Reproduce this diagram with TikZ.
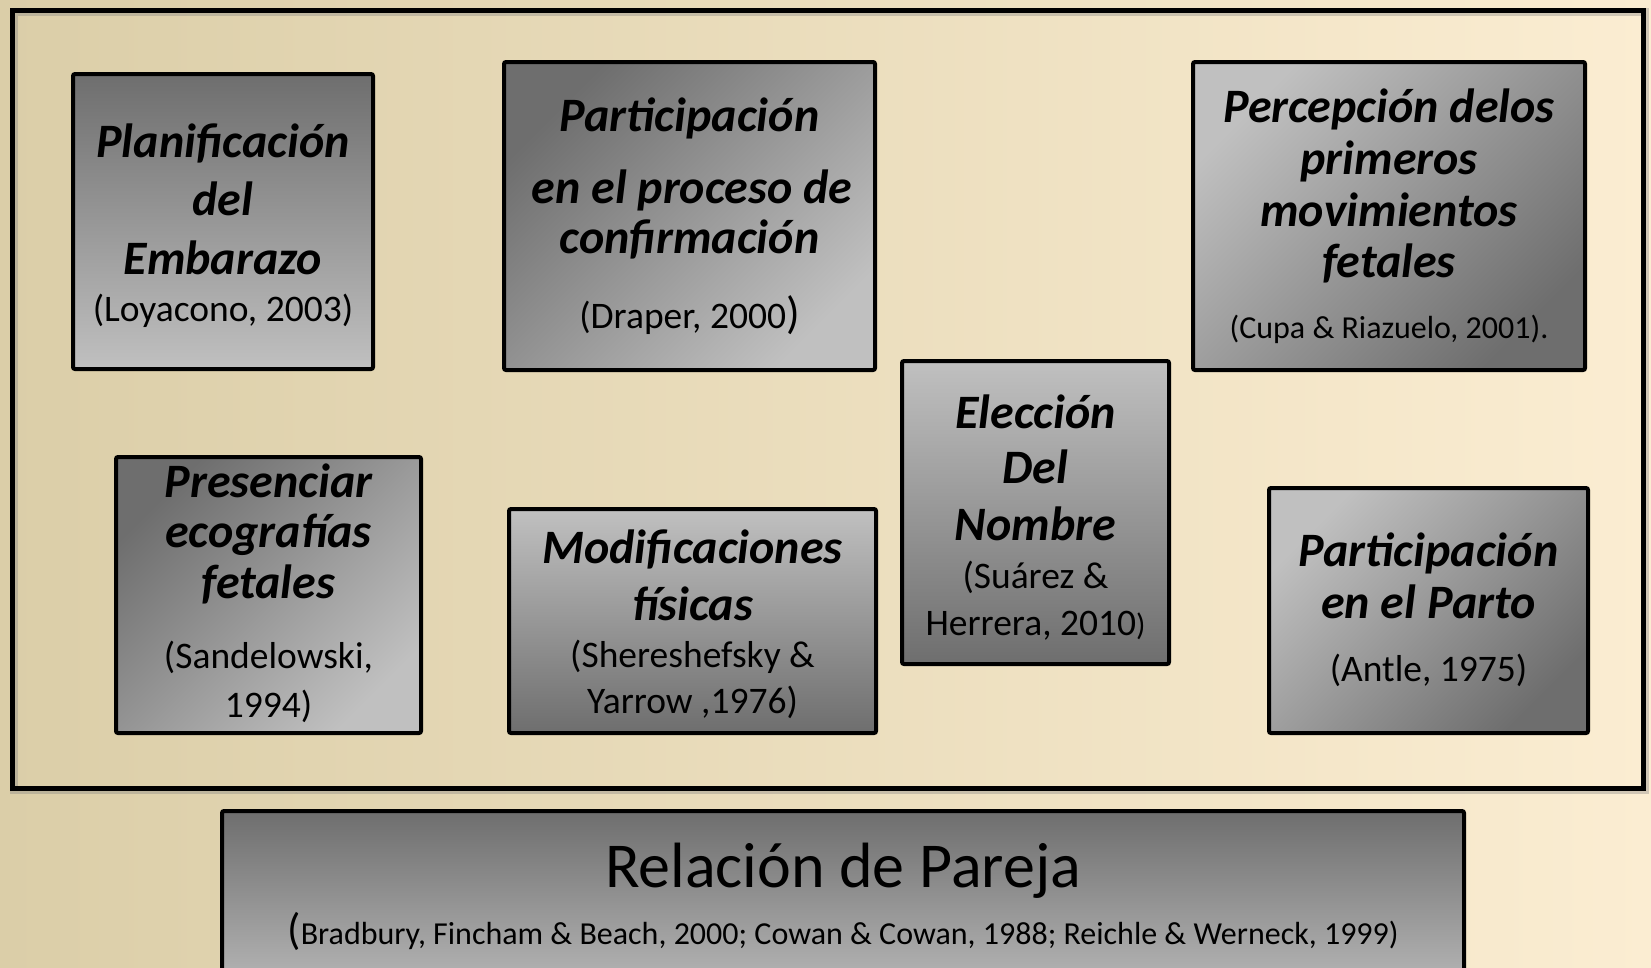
\documentclass[tikz,border=0pt]{standalone}
\usepackage{fontspec}
\setmainfont{Carlito}
\definecolor{gdark}{RGB}{110,110,110}
\definecolor{glight}{RGB}{192,192,192}
\definecolor{bgL}{RGB}{219,206,168}
\definecolor{bgM}{RGB}{243,237,216}
\definecolor{bgR}{RGB}{251,237,210}
\tikzset{
  boxbase/.style={draw=black, line width=4pt, rounded corners=2pt, inner sep=0pt, outer sep=0pt},
  vdark/.style={boxbase, top color=gdark, bottom color=glight},
  vlight/.style={boxbase, top color=glight, bottom color=gdark},
  ddark/.style={boxbase, top color=gdark, bottom color=glight, shading angle=45},
  dlight/.style={boxbase, top color=glight, bottom color=gdark, shading angle=45},
  frame/.style={draw=black, line width=5pt, inner sep=0pt, outer sep=0pt},
  ttl/.style={font=\fontsize{48}{56}\selectfont\bfseries\itshape, anchor=base, inner sep=0pt},
  cit/.style={font=\fontsize{37.5}{42}\selectfont, anchor=base, inner sep=0pt},
  citsm/.style={font=\fontsize{32}{38}\selectfont, anchor=base, inner sep=0pt},
  big/.style={font=\fontsize{64}{72}\selectfont, anchor=base, inner sep=0pt},
  citb/.style={font=\fontsize{32}{38}\selectfont, anchor=base, inner sep=0pt},
}
\begin{document}
\begin{tikzpicture}[x=1pt,y=-1pt]
\useasboundingbox (0,0) rectangle (1651,967);
\clip (0,0) rectangle (1651,967);
\fill[left color=bgL, middle color=bgM, right color=bgR] (0,0) rectangle (1651,967);
% outer frame
\node[draw=gray, opacity=0.35, line width=8pt, minimum width=1631pt, minimum height=778pt, inner sep=0pt] (frameshadow) at (829.5,401) {};
\node[frame, minimum width=1631pt, minimum height=778pt] (frame) at (827.5,399) {};
% boxes
\node[vdark, minimum width=300pt, minimum height=295pt] (b1) at (223,221.5) {};
\node[ddark, minimum width=371pt, minimum height=308pt] (b2) at (689.5,216) {};
\node[dlight, minimum width=392pt, minimum height=308pt] (b3) at (1389,216) {};
\node[ddark, minimum width=305pt, minimum height=276pt] (b4) at (268.5,595) {};
\node[vlight, minimum width=367pt, minimum height=224pt] (b5) at (692.5,621) {};
\node[vlight, minimum width=267pt, minimum height=303pt] (b6) at (1035.5,512.5) {};
\node[dlight, minimum width=319pt, minimum height=245pt] (b7) at (1428.5,610.5) {};
\node[vdark, minimum width=1242pt, minimum height=200pt] (b8) at (843,911) {};
% box 1
\node[ttl] (t1a) at (223,157) {Planificación};
\node[ttl] (t1b) at (223,215) {del};
\node[ttl] (t1c) at (223,274) {Embarazo};
\node[cit] (t1d) at (223,321) {(Loyacono, 2003)};
% box 2
\node[ttl] (t2a) at (689.5,131) {Participación};
\node[ttl] (t2b) at (692,203) {en el proceso de};
\node[ttl] (t2c) at (689.5,253) {confirmación};
\node[cit] (t2d) at (689.5,328) {(Draper, 2000{\fontsize{45}{50}\selectfont)}};
% box 3
\node[ttl] (t3a) at (1389,122) {Percepción delos};
\node[ttl] (t3b) at (1389,174) {primeros};
\node[ttl] (t3c) at (1389,226) {movimientos};
\node[ttl] (t3d) at (1389,277) {fetales};
\node[citsm] (t3e) at (1389,338) {(Cupa \& Riazuelo, 2001).};
% box 4
\node[ttl] (t4a) at (268.5,497) {Presenciar};
\node[ttl] (t4b) at (268.5,547) {ecografías};
\node[ttl] (t4c) at (268.5,598) {fetales};
\node[cit] (t4d) at (268.5,668) {(Sandelowski,};
\node[cit] (t4e) at (268.5,717) {1994)};
% box 5
\node[ttl] (t5a) at (692.5,563) {Modificaciones};
\node[ttl] (t5b) at (692.5,620) {físicas};
\node[cit] (t5c) at (692.5,667) {(Shereshefsky \&};
\node[cit] (t5d) at (692.5,713) {Yarrow ,1976)};
% box 6
\node[ttl] (t6a) at (1035.5,428) {Elección};
\node[ttl] (t6b) at (1035.5,483) {Del};
\node[ttl] (t6c) at (1035.5,540) {Nombre};
\node[cit] (t6d) at (1035.5,588) {(Suárez \&};
\node[cit] (t6e) at (1035.5,635) {Herrera, 2010{\fontsize{31}{36}\selectfont)}};
% box 7
\node[ttl] (t7a) at (1428.5,566) {Participación};
\node[ttl] (t7b) at (1428.5,618) {en el Parto};
\node[cit] (t7c) at (1428.5,681) {(Antle, 1975)};
% box 8
\node[big] (t8a) at (843,887) {Relación de Pareja};
\node[citb] (t8b) at (843,944) {{\fontsize{44}{50}\selectfont(}Bradbury, Fincham \& Beach, 2000; Cowan \& Cowan, 1988; Reichle \& Werneck, 1999)};
\end{tikzpicture}
\end{document}
